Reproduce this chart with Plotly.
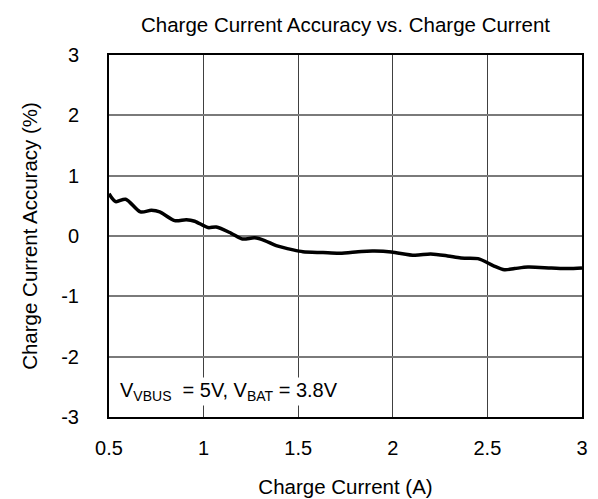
import plotly.graph_objects as go

# Data
charge_current = [0.50, 0.535, 0.588, 0.666, 0.724, 0.768, 0.847, 0.909, 0.953, 1.023,
                  1.067, 1.146, 1.205, 1.27, 1.323, 1.384, 1.473, 1.525, 1.631, 1.72,
                  1.834, 1.904, 1.992, 2.116, 2.20, 2.29, 2.36, 2.45, 2.53, 2.59,
                  2.644, 2.714, 2.838, 2.926, 3.0]
accuracy = [0.70, 0.57, 0.61, 0.40, 0.425, 0.40, 0.255, 0.27, 0.245, 0.14,
            0.148, 0.045, -0.05, -0.03, -0.075, -0.16, -0.23, -0.26, -0.275, -0.287,
            -0.255, -0.25, -0.265, -0.32, -0.297, -0.33, -0.366, -0.375, -0.49, -0.56,
            -0.54, -0.515, -0.53, -0.54, -0.53]

x_ticks = [0.5, 1, 1.5, 2, 2.5, 3]
x_tick_labels = ["0.5", "1", "1.5", "2", "2.5", "3"]
y_ticks = [-3, -2, -1, 0, 1, 2, 3]
y_tick_labels = ["-3", "-2", "-1", "0", "1", "2", "3"]

FONT = "Liberation Sans, Arial, sans-serif"

fig = go.Figure()
fig.add_trace(go.Scatter(
    x=charge_current, y=accuracy, mode="lines",
    line=dict(color="black", width=3.5, shape="spline", smoothing=0.8),
    showlegend=False, hoverinfo="skip",
))

fig.update_layout(
    width=598, height=499,
    margin=dict(l=101, r=24, t=47, b=75),
    paper_bgcolor="white", plot_bgcolor="white",
    font=dict(family=FONT, color="black", size=20),
    title=dict(text="Charge Current Accuracy vs. Charge Current",
               font=dict(size=20.5, family=FONT, color="black"),
               x=337.5 / 598, xanchor="center",
               y=1 - 17 / 499, yanchor="middle"),
    annotations=[dict(
        text="V<sub>VBUS</sub>\u00a0\u00a0= 5V, V<sub>BAT</sub> = 3.8V",
        xref="paper", yref="paper", x=0.018, y=0.07,
        xanchor="left", yanchor="middle", showarrow=False,
        bgcolor="white",
        font=dict(size=20, family=FONT, color="black"),
    )],
)

fig.update_xaxes(
    range=[0.5, 3], tickvals=x_ticks, ticktext=x_tick_labels,
    showgrid=True, gridcolor="#404040", gridwidth=1,
    showline=True, linecolor="black", linewidth=2, mirror=True,
    ticks="", ticklabelstandoff=12, zeroline=False,
    title=dict(text="Charge Current (A)", font=dict(size=20.5, family=FONT), standoff=22),
    tickfont=dict(size=20, family=FONT),
)
fig.update_yaxes(
    range=[-3, 3], tickvals=y_ticks, ticktext=y_tick_labels,
    showgrid=True, gridcolor="#7a7a7a", gridwidth=1.5,
    showline=True, linecolor="black", linewidth=2, mirror=True,
    ticks="", ticklabelstandoff=24, zeroline=False,
    title=dict(text="Charge Current Accuracy (%)", font=dict(size=20.5, family=FONT), standoff=18),
    tickfont=dict(size=20, family=FONT),
)

fig.write_html("out.html")
